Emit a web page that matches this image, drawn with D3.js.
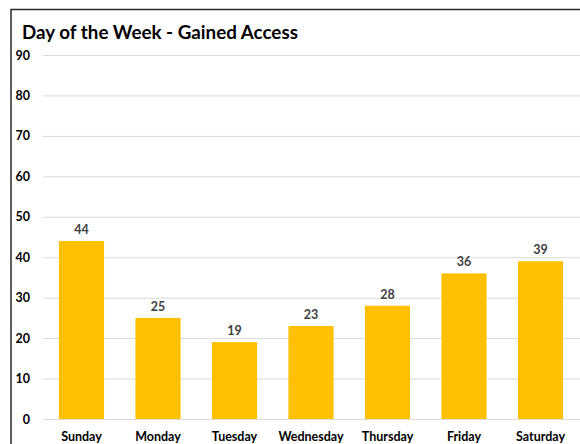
<!DOCTYPE html>
<html><head><meta charset="utf-8">
<script src="https://cdn.jsdelivr.net/npm/d3@7"></script>
<style>body{margin:0;background:#fff;}svg{display:block;font-family:Lato,"Open Sans",sans-serif;}</style>
</head><body>
<script>
const categories = ["Sunday","Monday","Tuesday","Wednesday","Thursday","Friday","Saturday"];
const values = [44,25,19,23,28,36,39];
const yTicks = [0,10,20,30,40,50,60,70,80,90];
const title = "Day of the Week - Gained Access";

const W = 580, H = 444;
const FONT = "Lato, 'Open Sans', sans-serif";
const svg = d3.select("body").append("svg").attr("width", W).attr("height", H);

// frame
svg.append("path").attr("d", `M11,${H} L11,9.5 L${W},9.5`).attr("fill","none").attr("stroke","#2b2b2b").attr("stroke-width",1.5);

svg.append("text").attr("x",22).attr("y",39).attr("font-family",FONT).attr("font-size",18.8).attr("font-weight","bold").attr("fill","#000").text(title);

const x = d3.scaleBand().domain(categories).range([43.25, 578.75]).paddingInner(0.41).paddingOuter(0.205);
const y = d3.scaleLinear().domain([0,90]).range([419,55]);

const yAxis = svg.append("g").attr("transform","translate(43,0)")
  .call(d3.axisLeft(y).tickValues(yTicks).tickSize(-(W-43)).tickFormat(d3.format("d")))
  .attr("font-family",FONT);
yAxis.select(".domain").remove();
yAxis.selectAll(".tick line").attr("stroke","#d9d9d9").attr("stroke-width",1);
yAxis.selectAll(".tick text").attr("x",-13).attr("font-size",12.5).attr("font-weight","bold").attr("fill","#000");

svg.append("g").selectAll("rect").data(values).join("rect")
  .attr("x",(d,i)=>x(categories[i])).attr("width",x.bandwidth())
  .attr("y",d=>y(d)).attr("height",d=>y(0)-y(d)).attr("fill","#FFC000");

svg.append("g").attr("font-family",FONT).selectAll("text").data(values).join("text")
  .attr("x",(d,i)=>x(categories[i])+x.bandwidth()/2).attr("y",d=>y(d)-7)
  .attr("text-anchor","middle").attr("font-size",12.5).attr("font-weight","bold").attr("fill","#404040").text(d=>d);

const xAxis = svg.append("g").attr("transform","translate(0,419)").call(d3.axisBottom(x).tickSize(0))
  .attr("font-family",FONT);
xAxis.select(".domain").remove();
xAxis.selectAll(".tick text").attr("dy",0).attr("y",22).attr("font-size",12.5).attr("font-weight","bold").attr("fill","#000");
</script>
</body></html>
